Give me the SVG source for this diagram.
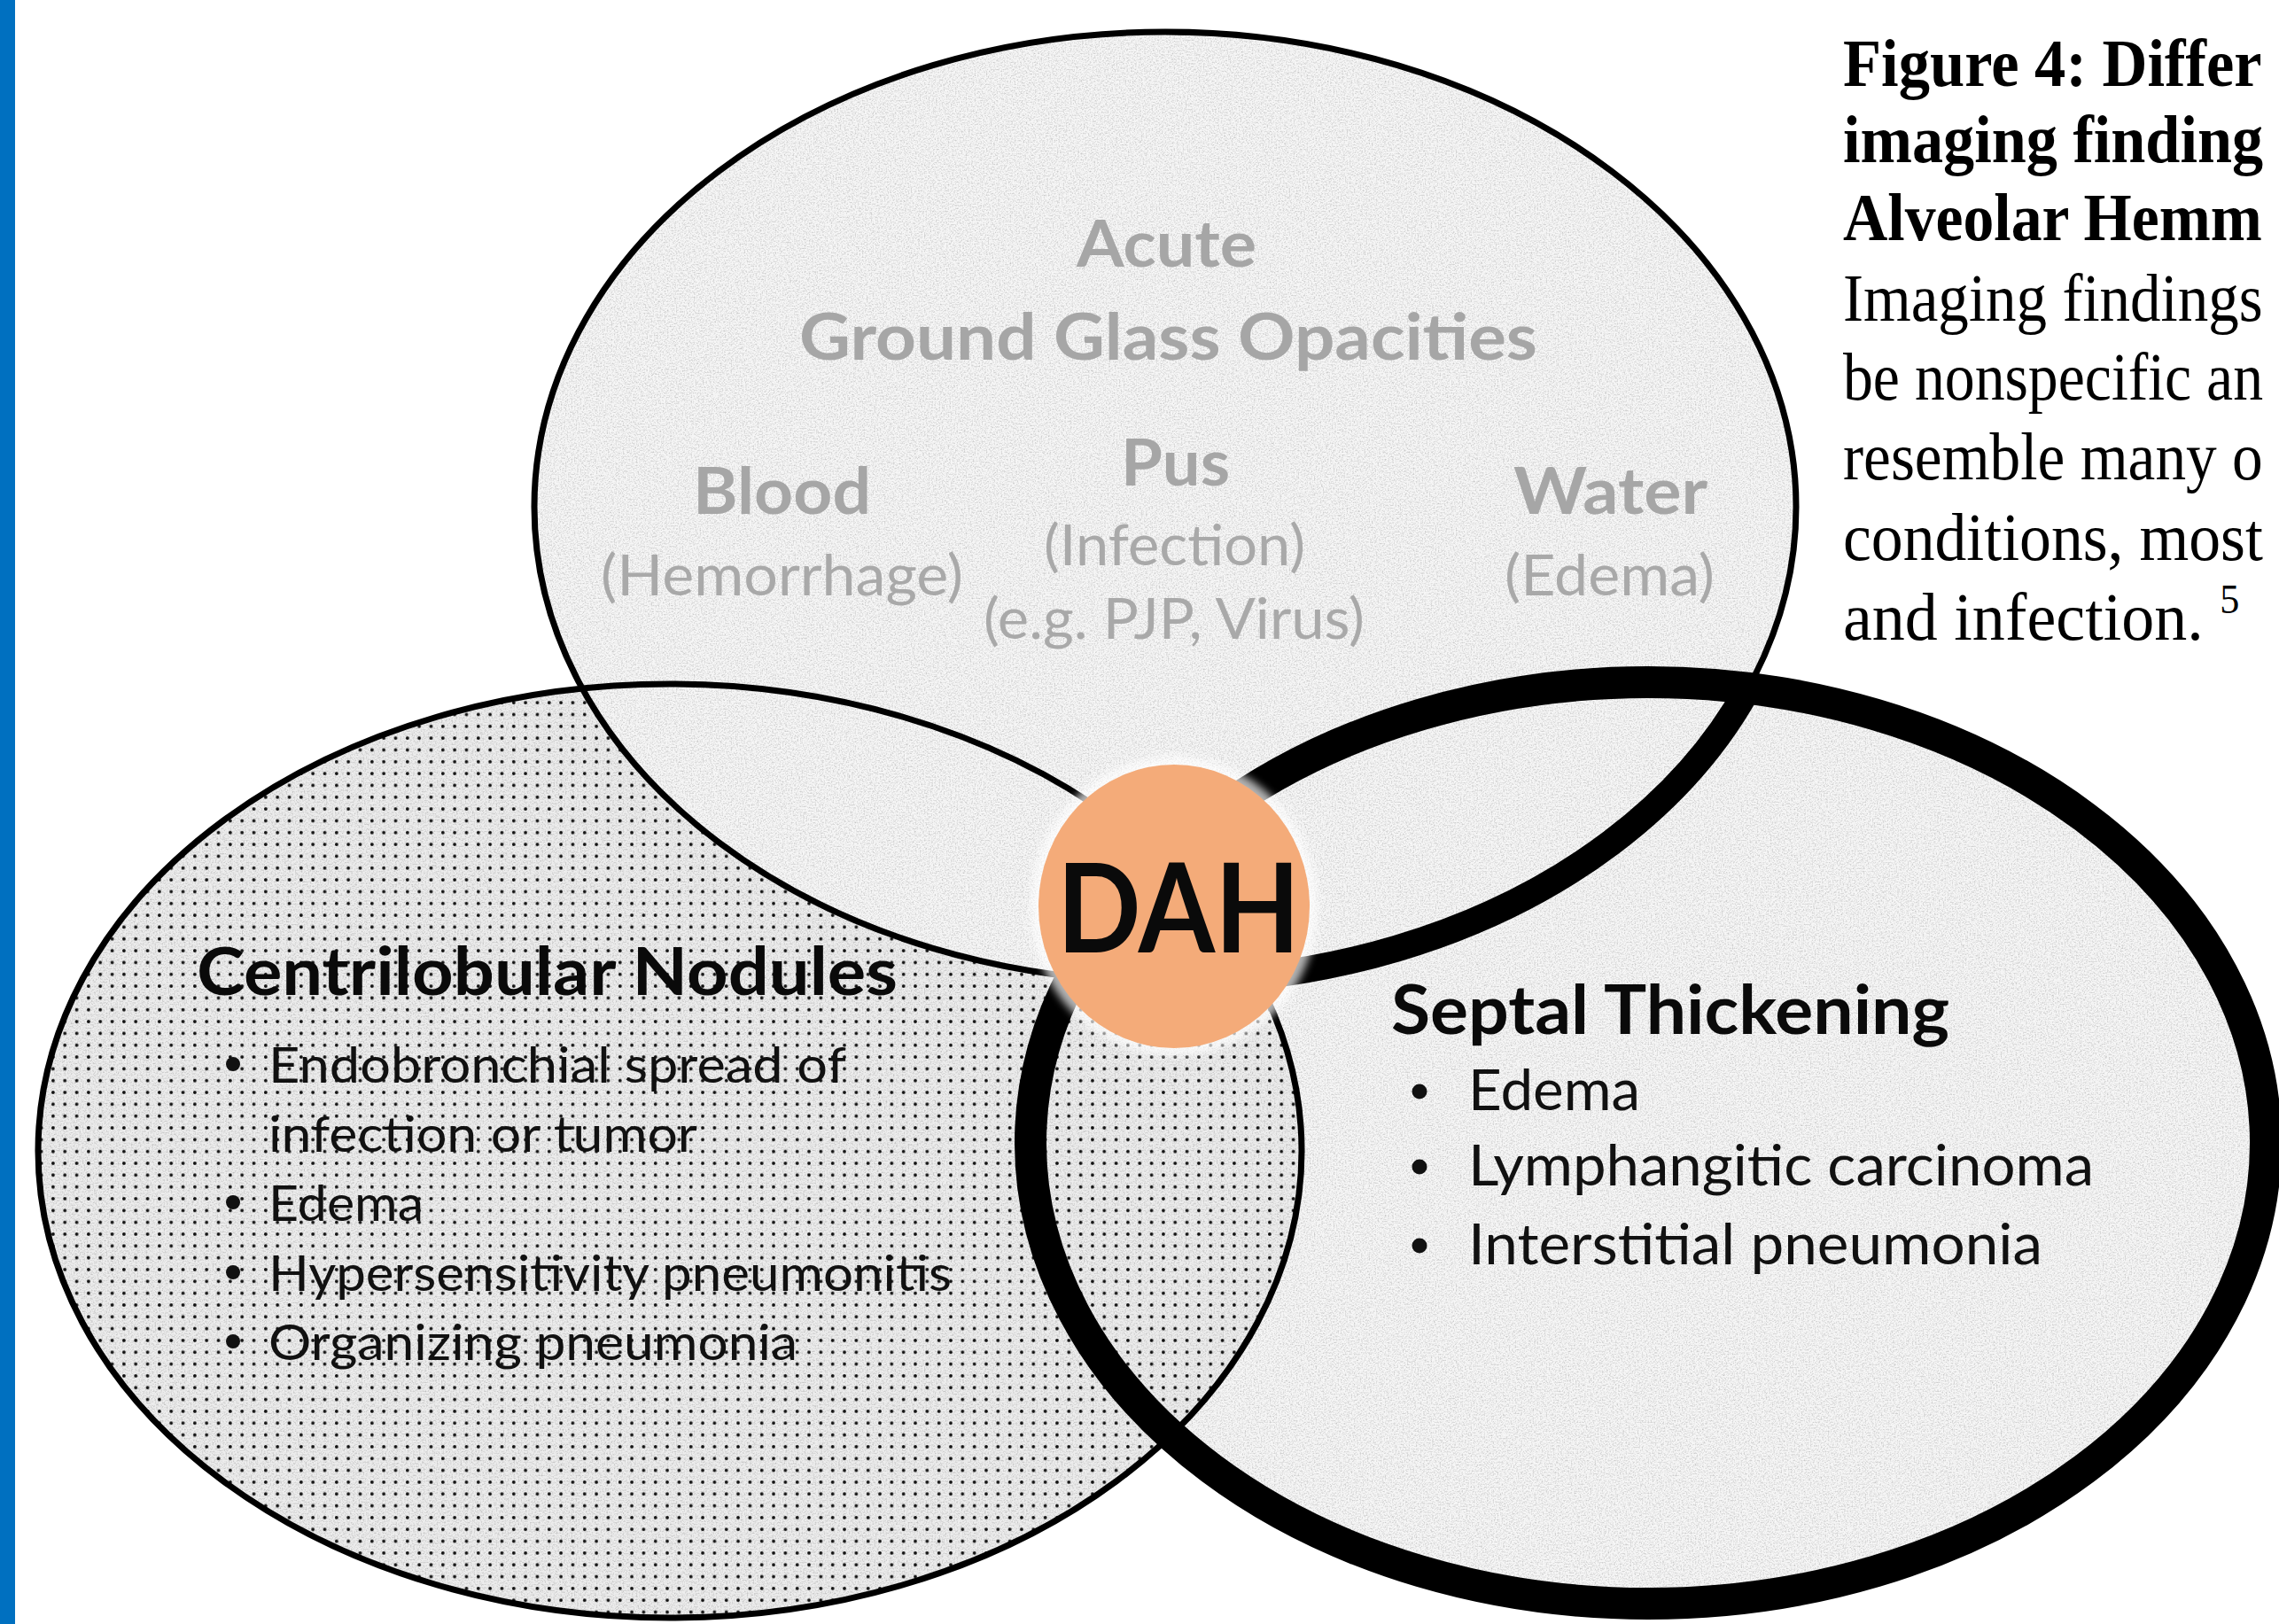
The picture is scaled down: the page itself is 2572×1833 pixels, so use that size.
<svg xmlns="http://www.w3.org/2000/svg" width="2572" height="1833" viewBox="0 0 2572 1833">
<defs>
<style>
.gb{font-family:Lato,'Liberation Sans',sans-serif;font-weight:700;fill:#A6A6A6;font-size:72px}
.gr{font-family:Lato,'Liberation Sans',sans-serif;font-weight:400;fill:#A9A9A9;font-size:63px}
.hb{font-family:Lato,'Liberation Sans',sans-serif;font-weight:700;fill:#0a0a0a}
.li{font-family:Lato,'Liberation Sans',sans-serif;font-weight:400;fill:#111}
.cap{font-family:'Liberation Serif','Times New Roman',serif;font-size:77px;fill:#000}
.capb{font-weight:700}
.thin{fill:none;stroke:#000;stroke-width:7}
.bul{fill:#111}
</style>
<pattern id="dots" width="13.33" height="13.33" patternUnits="userSpaceOnUse"><circle cx="6.6" cy="6.6" r="1.9" fill="#111"/></pattern>
<filter id="grain" x="0" y="0" width="1" height="1"><feTurbulence type="fractalNoise" baseFrequency="0.6" numOctaves="3" seed="11"/><feColorMatrix type="matrix" values="0 0 0 0 0  0 0 0 0 0  0 0 0 0 0  2 0 0 0 -0.85"/></filter>
<filter id="glow" x="-20%" y="-20%" width="140%" height="140%"><feGaussianBlur stdDeviation="5"/></filter>
<clipPath id="clipAll"><ellipse cx="1315" cy="572" rx="712" ry="536"/><ellipse cx="756" cy="1299" rx="713" ry="527"/><ellipse cx="1860" cy="1290" rx="697" ry="520"/></clipPath>
<clipPath id="clipRight"><ellipse cx="1860" cy="1290" rx="697" ry="520"/></clipPath>
</defs>
<rect width="2572" height="1833" fill="#fff"/>
<rect x="0" y="0" width="17" height="1833" fill="#0070C0"/>
<g id="fills">
<ellipse cx="1860" cy="1290" rx="697" ry="520" fill="#F6F6F6"/>
<ellipse cx="756" cy="1299" rx="713" ry="527" fill="#EDEDED"/>
<ellipse cx="756" cy="1299" rx="713" ry="527" fill="url(#dots)"/>
<ellipse cx="1315" cy="572" rx="712" ry="536" fill="#F6F6F6"/>
<rect x="0" y="0" width="2572" height="1833" filter="url(#grain)" clip-path="url(#clipAll)" opacity="0.2"/>
</g>
<g id="node-top">
<ellipse class="thin" cx="1315" cy="572" rx="712" ry="536"/>
<ellipse cx="1315" cy="572" rx="712" ry="536" fill="none" stroke="#000" stroke-width="30" clip-path="url(#clipRight)"/>
<text class="gb" x="1215" y="301" textLength="203" lengthAdjust="spacingAndGlyphs">Acute</text>
<text class="gb" x="902" y="406" textLength="833" lengthAdjust="spacingAndGlyphs">Ground Glass Opacities</text>
<text class="gb" x="782" y="580" textLength="201" lengthAdjust="spacingAndGlyphs">Blood</text>
<text class="gr" x="678" y="672" textLength="409" lengthAdjust="spacingAndGlyphs">(Hemorrhage)</text>
<text class="gb" x="1265" y="548" textLength="123" lengthAdjust="spacingAndGlyphs">Pus</text>
<text class="gr" x="1178" y="638" textLength="295" lengthAdjust="spacingAndGlyphs">(Infection)</text>
<text class="gr" x="1110" y="721" textLength="430" lengthAdjust="spacingAndGlyphs">(e.g. PJP, Virus)</text>
<text class="gb" x="1708" y="580" textLength="219" lengthAdjust="spacingAndGlyphs">Water</text>
<text class="gr" x="1698" y="672" textLength="237" lengthAdjust="spacingAndGlyphs">(Edema)</text>
</g>
<g id="node-left">
<ellipse class="thin" cx="756" cy="1299" rx="713" ry="527"/>
<text class="hb" x="222" y="1123" font-size="74" textLength="791" lengthAdjust="spacingAndGlyphs">Centrilobular Nodules</text>
<circle class="bul" cx="263" cy="1201" r="8"/>
<text class="li" x="303" y="1222" font-size="57" textLength="652" lengthAdjust="spacingAndGlyphs">Endobronchial spread of</text>
<text class="li" x="303" y="1300" font-size="57" textLength="484" lengthAdjust="spacingAndGlyphs">infection or tumor</text>
<circle class="bul" cx="263" cy="1357" r="8"/>
<text class="li" x="303" y="1378" font-size="57" textLength="175" lengthAdjust="spacingAndGlyphs">Edema</text>
<circle class="bul" cx="263" cy="1436" r="8"/>
<text class="li" x="303" y="1457" font-size="57" textLength="771" lengthAdjust="spacingAndGlyphs">Hypersensitivity pneumonitis</text>
<circle class="bul" cx="263" cy="1514" r="8"/>
<text class="li" x="303" y="1535" font-size="57" textLength="597" lengthAdjust="spacingAndGlyphs">Organizing pneumonia</text>
</g>
<g id="node-right">
<ellipse cx="1860" cy="1290" rx="697" ry="520" fill="none" stroke="#000" stroke-width="36"/>
<text class="hb" x="1570" y="1167" font-size="76" textLength="630" lengthAdjust="spacingAndGlyphs">Septal Thickening</text>
<circle class="bul" cx="1602" cy="1232" r="8.5"/>
<text class="li" x="1657" y="1253" font-size="63" textLength="194" lengthAdjust="spacingAndGlyphs">Edema</text>
<circle class="bul" cx="1602" cy="1317" r="8.5"/>
<text class="li" x="1657" y="1338" font-size="63" textLength="706" lengthAdjust="spacingAndGlyphs">Lymphangitic carcinoma</text>
<circle class="bul" cx="1602" cy="1406" r="8.5"/>
<text class="li" x="1657" y="1427" font-size="63" textLength="648" lengthAdjust="spacingAndGlyphs">Interstitial pneumonia</text>
</g>
<g id="node-dah">
<ellipse cx="1325" cy="1023" rx="162" ry="169" fill="#ffffff" opacity="0.7" filter="url(#glow)"/>
<ellipse cx="1325" cy="1023" rx="153" ry="160" fill="#F4AB79"/>
<text class="hb" x="1193" y="1075" font-size="140" textLength="274" lengthAdjust="spacingAndGlyphs">DAH</text>
</g>
<g id="connectors"/>
<g id="caption">
<text class="cap capb" transform="translate(2080,97) scale(0.916,1)" x="0" y="0">Figure 4: Differ</text>
<text class="cap capb" transform="translate(2080,183) scale(0.912,1)" x="0" y="0">imaging finding</text>
<text class="cap capb" transform="translate(2080,271) scale(0.905,1)" x="0" y="0">Alveolar Hemm</text>
<text class="cap" transform="translate(2080,362) scale(0.897,1)" x="0" y="0">Imaging findings</text>
<text class="cap" transform="translate(2080,451) scale(0.88,1)" x="0" y="0">be nonspecific an</text>
<text class="cap" transform="translate(2080,541) scale(0.901,1)" x="0" y="0">resemble many o</text>
<text class="cap" transform="translate(2080,632) scale(0.931,1)" x="0" y="0">conditions, most</text>
<text class="cap" transform="translate(2080,722) scale(0.961,1)" x="0" y="0">and infection. <tspan font-size="46" dy="-30">5</tspan></text>
</g>
</svg>
